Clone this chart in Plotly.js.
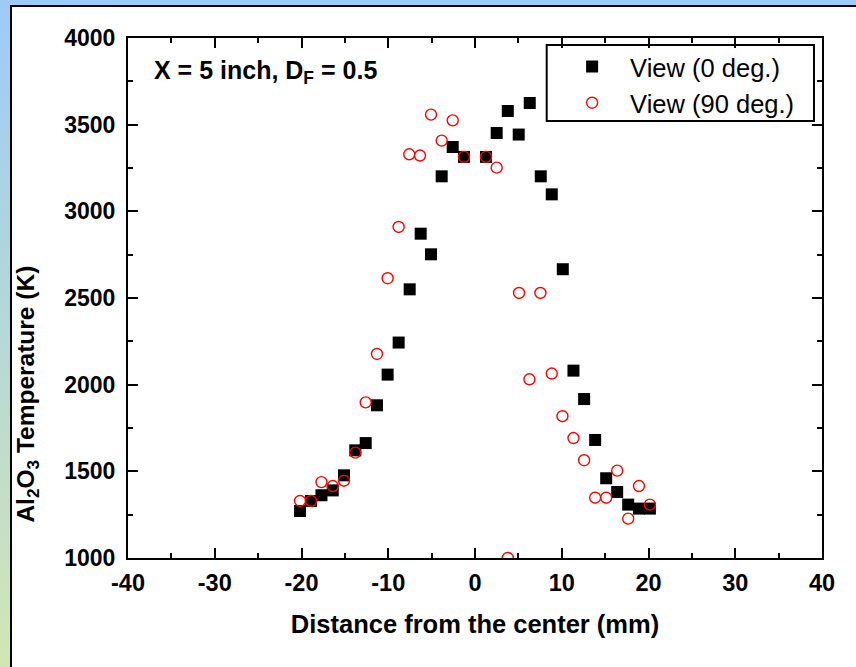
<!DOCTYPE html>
<html>
<head>
<meta charset="utf-8">
<script src="https://cdn.plot.ly/plotly-3.0.1.min.js"></script>
<style>
  html, body { margin: 0; padding: 0; }
  body { width: 856px; height: 667px; position: relative; overflow: hidden;
         background: linear-gradient(180deg, #9ecbf6 0%, #b6d8d8 50%, #d2e6b4 100%); }
  #panel { position: absolute; left: 10px; top: 5px; right: 0; bottom: 0;
           background: #ffffff; border-left: 2px solid #000; border-top: 2px solid #000; }
  #chart { position: absolute; left: 0; top: 0; width: 856px; height: 667px; }
</style>
</head>
<body>
<div id="panel"></div>
<div id="chart"></div>
<script>
// Distance from the center (mm) and Al2O3 temperature (K), view 0 deg.
const dist0 = [-20.17, -18.9, -17.7, -16.4, -15.1, -13.8, -12.6, -11.3, -10.07, -8.8, -7.53, -6.26, -5.07, -3.84, -2.57, -1.27,
               1.27, 2.5, 3.78, 5.04, 6.31, 7.58, 8.85, 10.12, 11.35, 12.58, 13.85, 15.12, 16.39, 17.66, 18.9, 20.16];
const temp0 = [1271, 1329, 1362, 1390, 1477, 1621, 1663, 1881, 2058, 2243, 2550, 2871, 2752, 3202, 3371, 3314,
               3314, 3452, 3579, 3443, 3625, 3202, 3098, 2666, 2081, 1917, 1681, 1460, 1381, 1308, 1285, 1285];

// view 90 deg.
const dist90 = [-20.17, -18.9, -17.7, -16.4, -15.1, -13.8, -12.6, -11.3, -10.07, -8.8, -7.58, -6.34, -5.07, -3.84, -2.57, -1.27,
                1.27, 2.5, 3.78, 5.08, 6.27, 7.54, 8.85, 10.08, 11.35, 12.58, 13.85, 15.12, 16.39, 17.66, 18.9, 20.16];
const temp90 = [1329, 1329, 1438, 1415, 1446, 1608, 1898, 2177, 2614, 2910, 3329, 3322, 3558, 3408, 3525, 3314,
                3314, 3252, 1000, 2529, 2031, 2529, 2064, 1818, 1692, 1564, 1348, 1348, 1504, 1227, 1415, 1308];

// tick labels (plain hyphen minus, as in the original)
const xTickVals = [-40, -30, -20, -10, 0, 10, 20, 30, 40];
const xTickText = ['-40', '-30', '-20', '-10', '0', '10', '20', '30', '40'];
const yTickVals = [1000, 1500, 2000, 2500, 3000, 3500, 4000];
const yTickText = ['1000', '1500', '2000', '2500', '3000', '3500', '4000'];

const seriesNames = ['View (0 deg.)', 'View (90 deg.)'];
const xTitle = 'Distance from the center (mm)';
const yTitle = 'Al<sub>2</sub>O<sub>3</sub> Temperature (K)';
const noteText = 'X = 5 inch, D<sub>F</sub> = 0.5';

const FAM = 'Liberation Sans, Arial, Helvetica, sans-serif';

const traces = [
  { x: dist0, y: temp0, name: seriesNames[0], type: 'scatter', mode: 'markers',
    marker: { symbol: 'square', size: 12, color: '#000000', line: { width: 0 } } },
  { x: dist90, y: temp90, name: seriesNames[1], type: 'scatter', mode: 'markers',
    marker: { symbol: 'circle-open', size: 11, color: '#ff0000', line: { width: 1.4, color: '#ff0000' } } }
];

const axisCommon = {
  showline: true, linecolor: '#000', linewidth: 2, mirror: 'allticks',
  ticks: 'inside', ticklen: 10, tickwidth: 2, tickcolor: '#000',
  showgrid: false, zeroline: false, fixedrange: true
};

const layout = {
  width: 856, height: 667,
  margin: { l: 128, r: 34, t: 38, b: 109, pad: 0 },
  paper_bgcolor: 'rgba(0,0,0,0)', plot_bgcolor: '#ffffff',
  showlegend: true,
  font: { family: FAM, color: '#000' },
  xaxis: Object.assign({}, axisCommon, {
    range: [-40, 40], tickmode: 'array', tickvals: xTickVals, ticktext: xTickText,
    minor: { dtick: 5, tick0: 0, ticks: 'inside', ticklen: 5, tickwidth: 2, tickcolor: '#000', showgrid: false },
    tickfont: { family: FAM, size: 23.5, weight: 'bold', color: '#000' },
    ticklabelstandoff: 3,
    title: { text: xTitle, font: { family: FAM, size: 25.5, weight: 'bold', color: '#000' }, standoff: 20 }
  }),
  yaxis: Object.assign({}, axisCommon, {
    range: [1000, 4000], tickmode: 'array', tickvals: yTickVals, ticktext: yTickText,
    minor: { dtick: 250, tick0: 1000, ticks: 'inside', ticklen: 5, tickwidth: 2, tickcolor: '#000', showgrid: false },
    tickfont: { family: FAM, size: 23, weight: 'bold', color: '#000' },
    ticklabelstandoff: 6
  }),
  legend: {
    x: 0.614, y: 0.9894, xanchor: 'left', yanchor: 'top',
    bgcolor: 'rgba(0,0,0,0)', borderwidth: 0,
    font: { family: FAM, size: 25.5, color: '#000' },
    itemwidth: 66
  },
  shapes: [
    { type: 'rect', xref: 'paper', yref: 'paper', layer: 'above',
      x0: (546.7 - 128) / 694, x1: (814 - 128) / 694,
      y0: 1 - (121 - 38) / 520, y1: 1 - (45 - 38) / 520,
      line: { color: '#000', width: 2 }, fillcolor: 'rgba(255,255,255,0)' }
  ],
  annotations: [
    { text: noteText, xref: 'paper', yref: 'paper', x: 0.035, y: 0.935, xanchor: 'left', yanchor: 'middle',
      showarrow: false, font: { family: FAM, size: 25, weight: 'bold', color: '#000' } },
    { text: yTitle, xref: 'paper', yref: 'paper', x: -0.145, y: 0.315, xanchor: 'center', yanchor: 'middle',
      textangle: -90, showarrow: false, font: { family: FAM, size: 24.5, weight: 'bold', color: '#000' } }
  ]
};

Plotly.newPlot('chart', traces, layout, { displayModeBar: false, staticPlot: true });
</script>
</body>
</html>
